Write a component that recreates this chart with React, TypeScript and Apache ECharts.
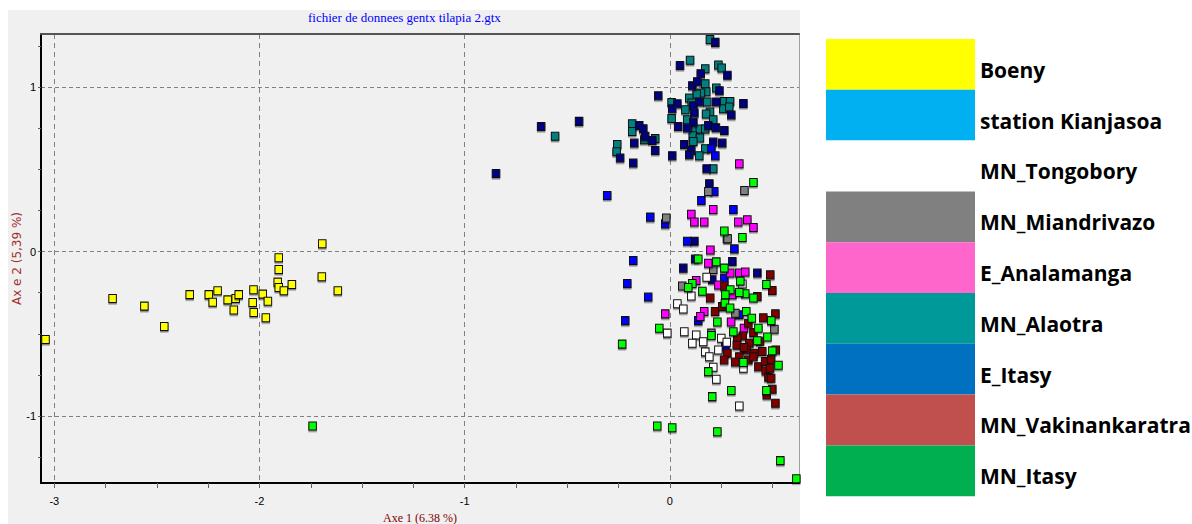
import React, { useEffect, useRef } from 'react';
import * as echarts from 'echarts';

const chartTitle = 'fichier de donnees gentx tilapia 2.gtx';
const xAxisName = 'Axe 1 (6.38 %)';
const yAxisName = 'Ax e 2 (5,39 %)';

const xMin = -3.065;
const xMax = 0.63;
const yMin = -1.407;
const yMax = 1.322;
const xLabelValues = [-3, -2, -1, 0];
const yLabelValues = [-1, 0, 1];
const xMinorTicks = [-3, -2.75, -2.5, -2.25, -2, -1.75, -1.5, -1.25, -1, -0.75, -0.5, -0.25, 0, 0.25, 0.5];
const yMinorTicks = [-1.25, -1, -0.75, -0.5, -0.25, 0, 0.25, 0.5, 0.75, 1, 1.25];

const groupNames = [
  'Boeny',
  'station Kianjasoa',
  'MN_Tongobory',
  'MN_Miandrivazo',
  'E_Analamanga',
  'MN_Alaotra',
  'E_Itasy',
  'MN_Vakinankaratra',
  'MN_Itasy',
];
const legendColors = ['#FFFF00', '#00B0F0', '#FFFFFF', '#808080', '#FF66CC', '#009999', '#0070C0', '#C0504D', '#00B050'];
const markerColors = ['#FFFF00', '#000080', '#FFFFFF', '#808080', '#FF00FF', '#008080', '#0000FF', '#800000', '#00FF00'];
// drawing order (index into groupNames)
const drawOrder = [0, 5, 1, 6, 3, 4, 2, 7, 8];

const boeny: number[][] = [
  [-3.043, -0.535], [-2.716, -0.286], [-2.561, -0.332], [-2.464, -0.456], [-2.34, -0.262],
  [-2.247, -0.262], [-2.228, -0.308], [-2.204, -0.239], [-2.155, -0.294], [-2.125, -0.356],
  [-2.116, -0.286], [-2.101, -0.262], [-2.029, -0.233], [-2.033, -0.31], [-2.028, -0.371],
  [-1.984, -0.259], [-1.959, -0.302], [-1.969, -0.403], [-1.906, -0.038], [-1.906, -0.109],
  [-1.911, -0.186], [-1.906, -0.219], [-1.881, -0.239], [-1.842, -0.201], [-1.694, 0.047],
  [-1.696, -0.154], [-1.618, -0.239],
];

const stationKianjasoa: number[][] = [
  [0.222, 1.271], [0.05, 1.131], [0.151, 1.081], [0.281, 1.071], [0.11, 1.008], [0.134, 1.032],
  [0.242, 0.977], [-0.056, 0.947], [0.359, 0.9], [0.037, 0.898], [0.144, 0.909], [0.227, 0.909],
  [0.3, 0.83], [0.012, 0.868], [0.115, 0.886], [0.12, 0.842], [0.041, 0.76], [0.115, 0.785],
  [0.085, 0.751], [0.188, 0.766], [0.225, 0.752], [0.266, 0.736], [0.071, 0.651], [0.212, 0.665],
  [0.256, 0.659], [0.105, 0.614], [0.095, 0.588], [0.012, 0.582], [-0.149, 0.766], [-0.129, 0.746],
  [-0.12, 0.7], [-0.085, 0.675], [-0.173, 0.659], [-0.242, 0.568], [-0.071, 0.614], [-0.178, 0.538],
  [0.18, 0.503], [-0.627, 0.76], [-0.442, 0.791], [-0.847, 0.474], [0.193, 0.412], [0.279, 0.079],
  [0.12, 0.063], [0.124, -0.046], [0.305, -0.061], [0.066, -0.101], [0.427, -0.131], [0.207, -0.172],
];

const mnTongobory: number[][] = [
  [0.18, -0.156], [0.354, -0.198], [0.105, -0.271], [0.037, -0.318], [0.066, -0.349], [-0.012, -0.496],
  [0.071, -0.488], [0.129, -0.507], [0.11, -0.557], [0.163, -0.549], [0.251, -0.527], [0.278, -0.551],
  [0.173, -0.61], [0.193, -0.639], [0.237, -0.598], [0.359, -0.709], [0.212, -0.703], [0.227, -0.776],
  [0.339, -0.939],
];

const mnMiandrivazo: number[][] = [
  [0.188, 0.365], [0.364, 0.371], [-0.017, 0.203], [0.282, 0.077], [0.212, -0.109], [0.061, -0.209],
  [0.32, -0.375], [0.203, -0.496], [0.51, -0.472],
];

const eAnalamanga: number[][] = [
  [0.339, 0.533], [0.105, 0.227], [0.12, 0.179], [0.168, 0.179], [0.212, 0.255], [0.334, 0.179],
  [0.378, 0.193], [0.408, 0.146], [0.198, 0.009], [0.188, -0.071], [0.295, -0.131], [0.339, -0.131],
  [0.368, -0.125], [0.129, -0.176], [0.237, -0.204], [0.305, -0.263], [-0.022, -0.379], [0.168, -0.365],
  [0.149, -0.395], [0.299, -0.428], [0.362, -0.466],
];

const mnAlaotra: number[][] = [
  [0.196, 1.288], [0.099, 1.162], [0.173, 1.111], [0.237, 1.134], [0.253, 1.116], [0.173, 1.02],
  [0.227, 0.994], [0.178, 0.971], [0.152, 0.964], [0.131, 0.957], [0.009, 0.906], [0.095, 0.933],
  [0.107, 0.903], [0.183, 0.909], [0.266, 0.912], [0.294, 0.912], [0.261, 0.868], [0.29, 0.878],
  [0.076, 0.862], [0.196, 0.848], [0.177, 0.836], [0.009, 0.809], [0.085, 0.801], [0.212, 0.801],
  [0.126, 0.74], [0.147, 0.745], [0.173, 0.745], [0.112, 0.704], [0.147, 0.69], [0.115, 0.669],
  [0.173, 0.625], [0.144, 0.582], [-0.183, 0.777], [-0.183, 0.73], [-0.124, 0.679], [-0.071, 0.686],
  [-0.256, 0.651], [-0.259, 0.606], [0.212, 0.503], [-0.559, 0.7],
];

const eItasy: number[][] = [
  [0.203, 0.625], [0.222, 0.582], [-0.305, 0.341], [0.217, 0.365], [0.154, 0.31], [0.31, 0.255],
  [-0.095, 0.209], [-0.022, 0.168], [0.085, 0.063], [0.315, 0.016], [-0.178, -0.055], [0.266, -0.162],
  [-0.207, -0.195], [-0.105, -0.277], [-0.217, -0.42], [0.139, -0.42], [0.339, -0.385], [0.271, -0.578],
];

const mnVakinankaratra: number[][] = [
  [0.49, -0.142], [0.266, -0.209], [0.5, -0.237], [0.427, -0.274], [0.221, -0.365], [0.256, -0.335],
  [0.383, -0.436], [0.456, -0.403], [0.515, -0.379], [0.356, -0.513], [0.329, -0.527], [0.408, -0.493],
  [0.388, -0.557], [0.327, -0.569], [0.281, -0.618], [0.265, -0.659], [0.375, -0.598], [0.411, -0.618],
  [0.451, -0.608], [0.517, -0.598], [0.339, -0.639], [0.383, -0.659], [0.408, -0.639], [0.432, -0.7],
  [0.465, -0.669], [0.494, -0.655], [0.468, -0.726], [0.481, -0.764], [0.494, -0.77], [0.5, -0.837],
  [0.473, -0.872], [0.515, -0.922], [0.362, -0.583], [0.44, -0.546], [0.489, -0.709], [0.319, -0.672],
  [0.197, -0.282],
];

const mnItasy: number[][] = [
  [0.408, 0.42], [0.266, 0.124], [0.354, 0.085], [0.139, -0.046], [0.227, -0.063], [0.266, -0.101],
  [0.344, -0.18], [0.11, -0.195], [0.09, -0.219], [0.159, -0.241], [0.295, -0.233], [0.471, -0.201],
  [0.368, -0.257], [0.339, -0.249], [0.271, -0.263], [0.408, -0.283], [0.269, -0.314], [0.294, -0.344],
  [-0.051, -0.466], [-0.232, -0.563], [0.232, -0.428], [0.373, -0.365], [0.4, -0.405], [0.495, -0.42],
  [0.31, -0.488], [0.203, -0.511], [0.432, -0.466], [0.476, -0.519], [0.427, -0.543], [0.5, -0.604],
  [0.359, -0.675], [0.53, -0.691], [0.188, -0.73], [0.3, -0.845], [0.207, -0.882], [0.471, -0.845],
  [-0.061, -1.06], [0.012, -1.071], [0.232, -1.095], [0.539, -1.271], [0.617, -1.381], [-1.741, -1.06],
];

const groupData = [
  boeny, stationKianjasoa, mnTongobory, mnMiandrivazo, eAnalamanga,
  mnAlaotra, eItasy, mnVakinankaratra, mnItasy,
];

const isInt = (v: number) => Math.abs(v - Math.round(v)) < 1e-6;

export default function App() {
  const ref = useRef<HTMLDivElement>(null);
  useEffect(() => {
    if (!ref.current) return;
    const chart = echarts.init(ref.current, undefined, { renderer: 'svg' });

    const axisCommon = {
      type: 'value' as const,
      splitNumber: 4,
      minInterval: 1,
      maxInterval: 1,
    };

    chart.setOption({
      animation: false,
      backgroundColor: '#ffffff',
      graphic: [
        {
          type: 'rect',
          z: -10,
          silent: true,
          shape: { x: 8, y: 10, width: 792, height: 514 },
          style: { fill: '#f0f0f0' },
        },
      ],
      title: {
        text: chartTitle,
        left: 308,
        top: 11,
        padding: 0,
        textStyle: { fontFamily: 'Liberation Serif', fontSize: 13, fontWeight: 'normal', color: '#0000ff' },
      },
      legend: {
        orient: 'vertical',
        left: 826,
        top: 39,
        padding: 0,
        itemWidth: 149,
        itemHeight: 50.8,
        itemGap: 0,
        selectedMode: false,
        icon: 'rect',
        itemStyle: { borderWidth: 0, shadowBlur: 0, shadowOffsetX: 0, shadowOffsetY: 0, shadowColor: 'transparent' },
        formatter: '{t|{name}}',
        textStyle: {
          fontFamily: 'Open Sans',
          fontWeight: 'bold',
          fontSize: 21,
          color: '#000000',
          rich: {
            t: {
              fontFamily: 'Open Sans',
              fontWeight: 'bold',
              fontSize: 21,
              color: '#000000',
              padding: [11, 0, 0, 0],
            },
          },
        },
        data: groupNames.map((n, i) => ({
          name: n,
          icon: 'rect',
          itemStyle: { color: legendColors[i], borderWidth: 0 },
        })),
      },
      grid: {
        left: 41,
        top: 34,
        right: 393,
        bottom: 41,
        containLabel: false,
        outerBoundsMode: 'none',
      },
      xAxis: [
        {
          ...axisCommon,
          min: xMin,
          max: xMax,
          position: 'bottom',
          name: xAxisName,
          nameLocation: 'middle',
          nameGap: 29,
          nameMoveOverlap: false,
          nameTextStyle: { fontFamily: 'Liberation Serif', fontSize: 12, color: '#800000' },
          axisLine: { show: true, onZero: false, lineStyle: { color: '#000000', width: 2 } },
          axisTick: {
            show: true,
            inside: false,
            length: 5,
            customValues: xMinorTicks,
            lineStyle: { color: '#606060', width: 1 },
          },
          axisLabel: {
            show: true,
            margin: 12,
            customValues: xLabelValues,
            formatter: (v: number) => (isInt(v) ? String(Math.round(v)) : ''),
            fontFamily: 'Liberation Sans',
            fontSize: 11,
            color: '#000000',
          },
          splitLine: { show: false },
        },
        {
          ...axisCommon,
          min: xMin,
          max: xMax,
          position: 'top',
          axisLine: { show: true, onZero: false, lineStyle: { color: '#555555', width: 2 } },
          axisTick: { show: false },
          axisLabel: { show: false },
          splitLine: {
            show: true,
            showMinLine: false,
            showMaxLine: false,
            lineStyle: { color: '#808080', width: 1, type: [5, 4] },
          },
        },
      ],
      yAxis: [
        {
          ...axisCommon,
          min: yMin,
          max: yMax,
          position: 'left',
          name: yAxisName,
          nameLocation: 'middle',
          nameRotate: 90,
          nameGap: 18,
          nameMoveOverlap: false,
          nameTextStyle: { fontFamily: 'DejaVu Sans', fontSize: 12, color: '#a03030' },
          axisLine: { show: true, onZero: false, lineStyle: { color: '#000000', width: 2 } },
          axisTick: {
            show: true,
            inside: false,
            length: 3,
            customValues: yMinorTicks,
            lineStyle: { color: '#606060', width: 1 },
          },
          axisLabel: {
            show: true,
            margin: 5,
            customValues: yLabelValues,
            formatter: (v: number) => (isInt(v) ? String(Math.round(v)) : ''),
            fontFamily: 'Liberation Sans',
            fontSize: 11,
            color: '#000000',
          },
          splitLine: { show: false },
        },
        {
          ...axisCommon,
          min: yMin,
          max: yMax,
          position: 'right',
          axisLine: { show: true, onZero: false, lineStyle: { color: '#a0a0a0', width: 1 } },
          axisTick: { show: false },
          axisLabel: { show: false },
          splitLine: {
            show: true,
            showMinLine: false,
            showMaxLine: false,
            lineStyle: { color: '#808080', width: 1, type: [4, 3] },
          },
        },
      ],
      series: drawOrder.map((gi) => ({
        type: 'scatter',
        name: groupNames[gi],
        data: groupData[gi],
        symbol: 'rect',
        symbolSize: [7.5, 8],
        xAxisIndex: 0,
        yAxisIndex: 0,
        itemStyle: {
          color: markerColors[gi],
          opacity: 1,
          borderColor: '#101010',
          borderWidth: 1,
          shadowColor: 'rgba(0,0,0,0.45)',
          shadowBlur: 0,
          shadowOffsetX: 0,
          shadowOffsetY: 1.5,
        },
        emphasis: { disabled: true },
      })),
    });

    return () => chart.dispose();
  }, []);

  return (
    <div
      ref={ref}
      style={{ position: 'fixed', left: 0, top: 0, width: 1192, height: 524 }}
    />
  );
}
